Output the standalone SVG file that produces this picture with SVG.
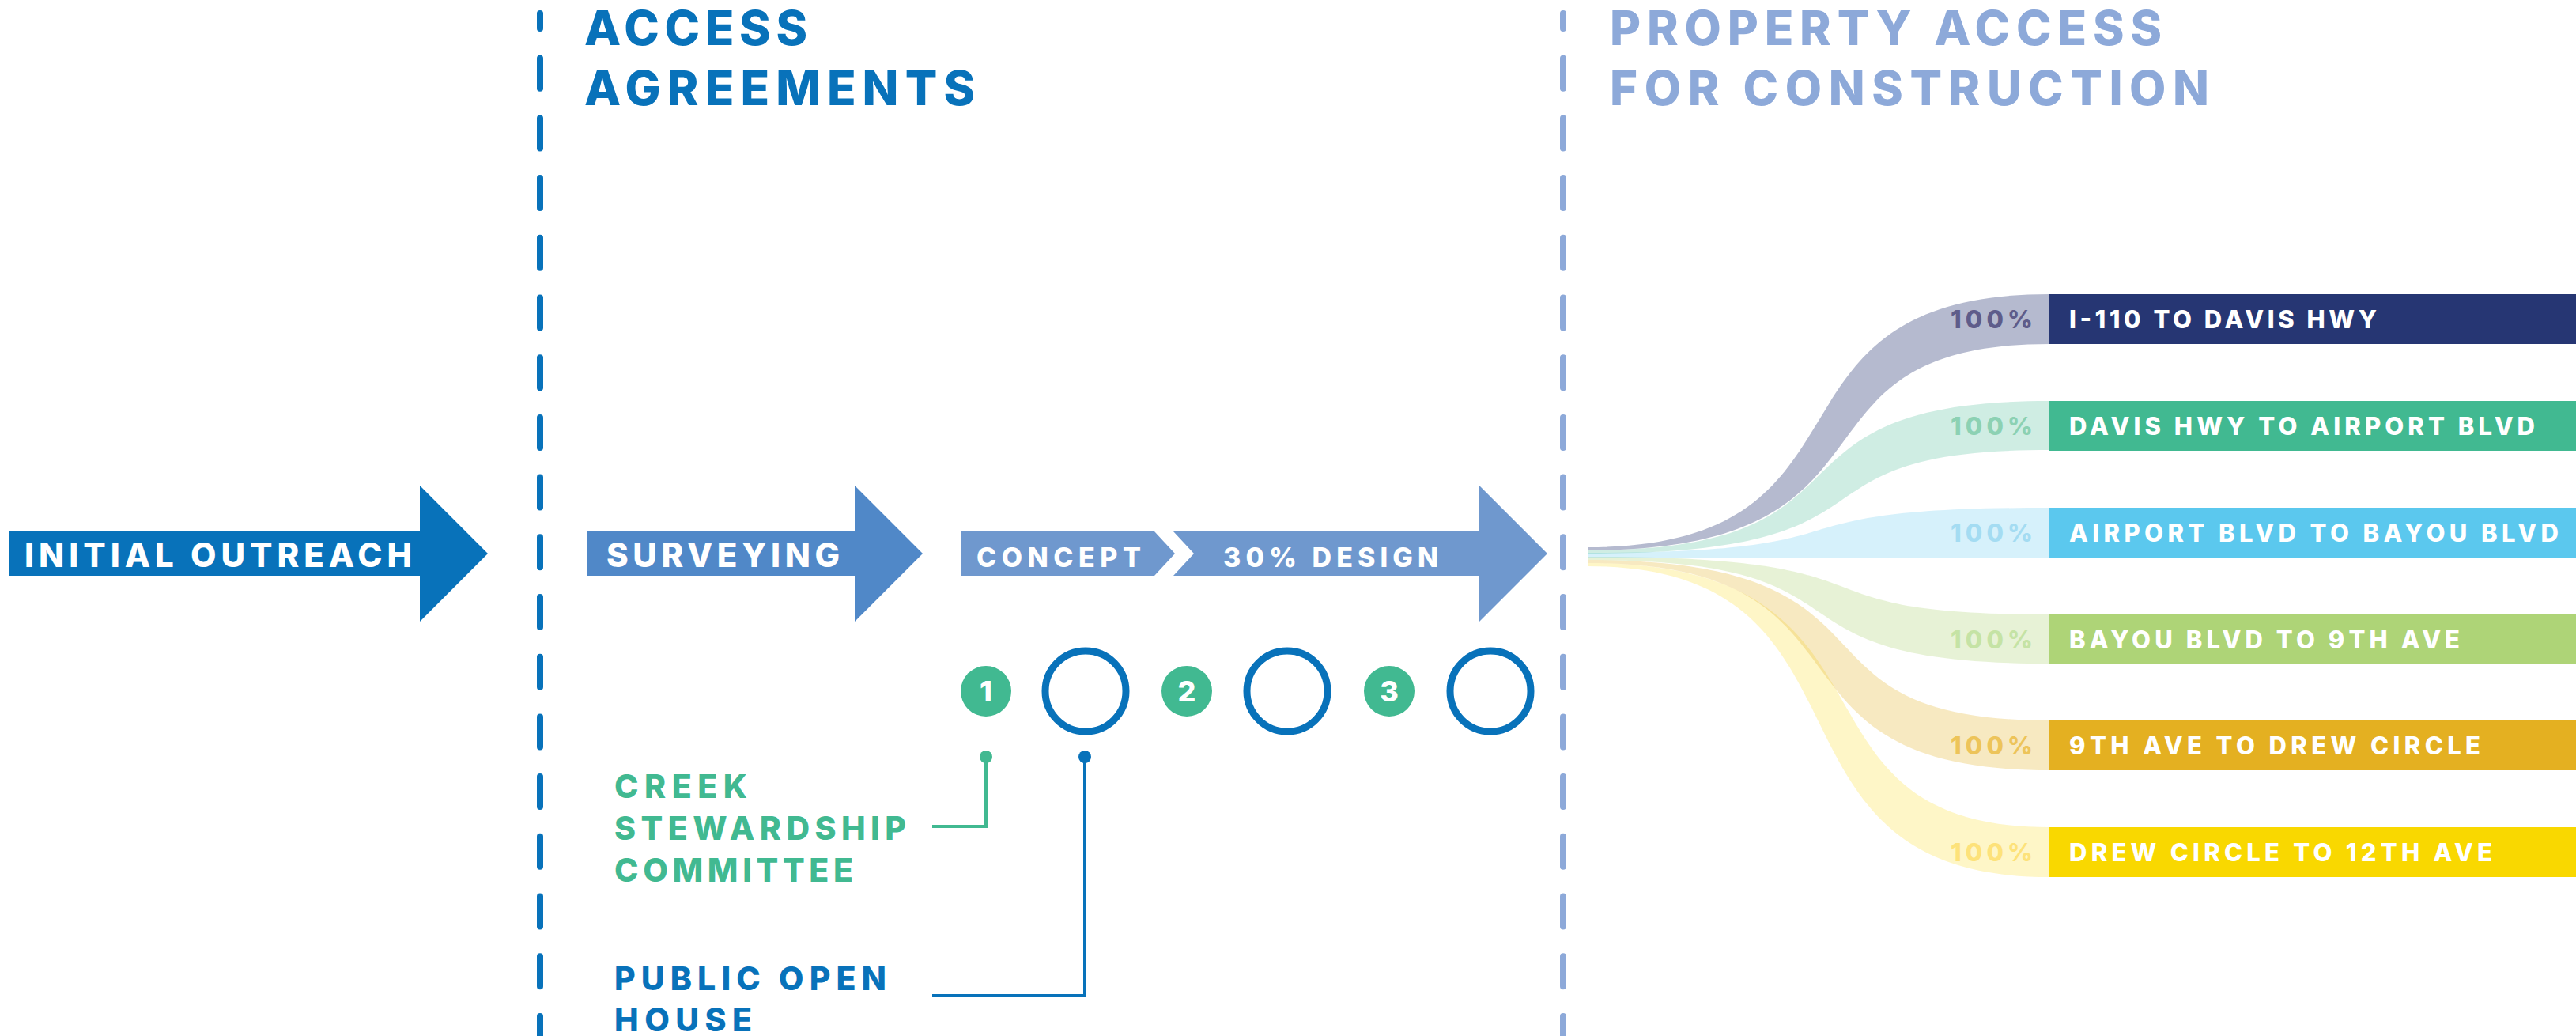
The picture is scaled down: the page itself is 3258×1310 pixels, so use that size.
<svg xmlns="http://www.w3.org/2000/svg" width="3258" height="1310" viewBox="0 0 3258 1310">
<style>
text{font-family:Inter,"Open Sans","Liberation Sans",Arial,sans-serif;font-weight:800}
.h{font-size:60px}
.big{font-size:42px;fill:#fff}
.mid{font-size:34px;fill:#fff}
.num{font-size:36px;fill:#fff;text-anchor:middle}
.lab{font-size:41px}
.bar{font-size:31px;fill:#fff}
.pct{font-size:31px}
.dash{fill:none;stroke-width:8;stroke-linecap:round;stroke-dasharray:38 37.7;stroke-dashoffset:19}
.ring{fill:none;stroke:#0872BA;stroke-width:9}
.green{fill:#41B991}
.blue{fill:#0872BA}
</style>
<rect width="3258" height="1310" fill="#fff"/>

<g id="dividers">
<line class="dash" x1="683" y1="17" x2="683" y2="1320" stroke="#0872BA"/>
<line class="dash" x1="1977" y1="17" x2="1977" y2="1320" stroke="#8DA9D9"/>
</g>

<g id="heading-access">
<text class="h blue" x="739" y="57" textLength="282" lengthAdjust="spacing">ACCESS</text>
<text class="h blue" x="739" y="133" textLength="494" lengthAdjust="spacing">AGREEMENTS</text>
</g>
<g id="heading-property">
<text class="h" fill="#8DA9D9" x="2036" y="57" textLength="698" lengthAdjust="spacing">PROPERTY ACCESS</text>
<text class="h" fill="#8DA9D9" x="2036" y="133" textLength="758" lengthAdjust="spacing">FOR CONSTRUCTION</text>
</g>

<g id="initial-outreach">
<polygon points="12,672 531,672 531,614 617,700 531,786 531,728 12,728" fill="#0872BA"/>
<text class="big" x="31" y="717" textLength="490" lengthAdjust="spacing">INITIAL OUTREACH</text>
</g>
<g id="surveying">
<polygon points="742,672 1081,672 1081,614 1167,700 1081,786 1081,728 742,728" fill="#5088C8"/>
<text class="big" x="767" y="717" textLength="295" lengthAdjust="spacing">SURVEYING</text>
</g>
<g id="concept">
<polygon points="1215,672 1460,672 1486,700 1460,728 1215,728" fill="#6F98CE"/>
<text class="mid" x="1235" y="717" textLength="208" lengthAdjust="spacing">CONCEPT</text>
</g>
<g id="design30">
<polygon points="1484,672 1871,672 1871,614 1957,700 1871,786 1871,728 1484,728 1510,700" fill="#6F98CE"/>
<text class="mid" x="1547" y="717" textLength="272" lengthAdjust="spacing">30% DESIGN</text>
</g>

<g id="meeting1">
<circle class="green" cx="1247" cy="874" r="32"/>
<text class="num" x="1247" y="887">1</text>
</g>
<g id="ring1"><circle class="ring" cx="1373" cy="874" r="51"/></g>
<g id="meeting2">
<circle class="green" cx="1501" cy="874" r="32"/>
<text class="num" x="1501" y="887">2</text>
</g>
<g id="ring2"><circle class="ring" cx="1628" cy="874" r="51"/></g>
<g id="meeting3">
<circle class="green" cx="1757" cy="874" r="32"/>
<text class="num" x="1757" y="887">3</text>
</g>
<g id="ring3"><circle class="ring" cx="1885" cy="874" r="51"/></g>

<g id="connectors">
<polyline points="1247,957 1247,1045 1179,1045" fill="none" stroke="#41B991" stroke-width="4"/>
<circle cx="1247" cy="957" r="8" fill="#41B991"/>
<polyline points="1372,957 1372,1259 1179,1259" fill="none" stroke="#0872BA" stroke-width="4"/>
<circle cx="1372" cy="957" r="8" fill="#0872BA"/>
</g>

<g id="creek-stewardship">
<text class="lab green" x="777" y="1009" textLength="168" lengthAdjust="spacing">CREEK</text>
<text class="lab green" x="777" y="1062" textLength="369" lengthAdjust="spacing">STEWARDSHIP</text>
<text class="lab green" x="777" y="1115" textLength="302" lengthAdjust="spacing">COMMITTEE</text>
</g>
<g id="public-open-house">
<text class="lab blue" x="777" y="1252" textLength="344" lengthAdjust="spacing">PUBLIC OPEN</text>
<text class="lab blue" x="777" y="1304" textLength="174" lengthAdjust="spacing">HOUSE</text>
</g>

<g id="ribbons">
<path d="M2008,712 C2433,712 2237,1046 2592,1046 L2592,1109 C2202,1109 2398,716 2008,716 Z" fill="#F9D800" fill-opacity="0.22"/>
<path d="M2008,708 C2433,708 2237,911 2592,911 L2592,974 C2202,974 2398,712 2008,712 Z" fill="#E4B021" fill-opacity="0.28"/>
<path d="M2008,704 C2433,704 2237,777 2592,777 L2592,839 C2202,839 2398,708 2008,708 Z" fill="#AED477" fill-opacity="0.3"/>
<path d="M2008,699 C2398,699 2202,642 2592,642 L2592,705 C2212,705 2408,706 2008,706 Z" fill="#5BC8EE" fill-opacity="0.25"/>
<path d="M2008,696 C2398,696 2202,507 2592,507 L2592,569 C2237,569 2433,700 2008,700 Z" fill="#41B991" fill-opacity="0.25"/>
<path d="M2008,692 C2398,692 2202,372 2592,372 L2592,435 C2237,435 2433,696 2008,696 Z" fill="#263673" fill-opacity="0.34"/>
</g>

<g id="seg1">
<rect x="2592" y="372" width="666" height="63" fill="#263673"/>
<text class="pct" fill="#5E5C8A" x="2467" y="415" textLength="104" lengthAdjust="spacing">100%</text>
<text class="bar" x="2617" y="415" textLength="389" lengthAdjust="spacing">I-110 TO DAVIS HWY</text>
</g>
<g id="seg2">
<rect x="2592" y="507" width="666" height="63" fill="#41B991"/>
<text class="pct" fill="#8CD1B3" x="2467" y="550" textLength="104" lengthAdjust="spacing">100%</text>
<text class="bar" x="2617" y="550" textLength="589" lengthAdjust="spacing">DAVIS HWY TO AIRPORT BLVD</text>
</g>
<g id="seg3">
<rect x="2592" y="642" width="666" height="63" fill="#5BC8EE"/>
<text class="pct" fill="#A4DCF2" x="2467" y="685" textLength="104" lengthAdjust="spacing">100%</text>
<text class="bar" x="2617" y="685" textLength="619" lengthAdjust="spacing">AIRPORT BLVD TO BAYOU BLVD</text>
</g>
<g id="seg4">
<rect x="2592" y="777" width="666" height="63" fill="#AED477"/>
<text class="pct" fill="#C5E3A5" x="2467" y="820" textLength="104" lengthAdjust="spacing">100%</text>
<text class="bar" x="2617" y="820" textLength="494" lengthAdjust="spacing">BAYOU BLVD TO 9TH AVE</text>
</g>
<g id="seg5">
<rect x="2592" y="911" width="666" height="63" fill="#E4B021"/>
<text class="pct" fill="#EDC45A" x="2467" y="954" textLength="104" lengthAdjust="spacing">100%</text>
<text class="bar" x="2617" y="954" textLength="520" lengthAdjust="spacing">9TH AVE TO DREW CIRCLE</text>
</g>
<g id="seg6">
<rect x="2592" y="1046" width="666" height="63" fill="#F9D800"/>
<text class="pct" fill="#FDE27A" x="2467" y="1089" textLength="104" lengthAdjust="spacing">100%</text>
<text class="bar" x="2617" y="1089" textLength="535" lengthAdjust="spacing">DREW CIRCLE TO 12TH AVE</text>
</g>
</svg>
